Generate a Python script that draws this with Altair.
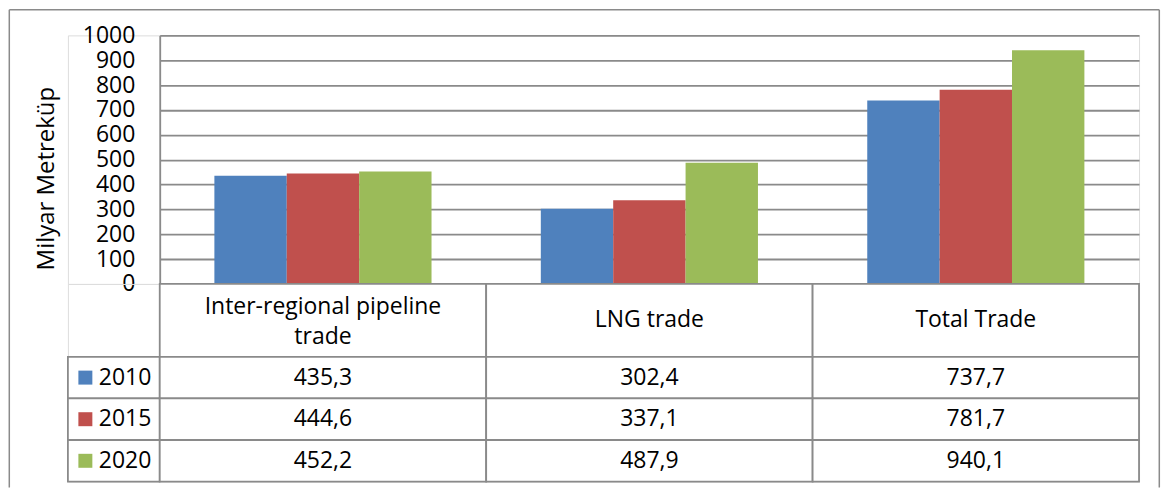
import altair as alt
import pandas as pd

# ---- data -------------------------------------------------------------
categories = ["Inter-regional pipeline trade", "LNG trade", "Total Trade"]
header_labels = ["Inter-regional pipeline\ntrade", "LNG trade", "Total Trade"]
years = ["2010", "2015", "2020"]
values_2010 = [435.3, 302.4, 737.7]
values_2015 = [444.6, 337.1, 781.7]
values_2020 = [452.2, 487.9, 940.1]
colors = ["#4F81BD", "#C0504D", "#9BBB59"]
y_ticks = [0, 100, 200, 300, 400, 500, 600, 700, 800, 900, 1000]
y_title = "Milyar Metreküp"

series = {"2010": values_2010, "2015": values_2015, "2020": values_2020}
rows = []
for yr in years:
    for cat, v in zip(categories, series[yr]):
        rows.append({"category": cat, "year": yr, "value": v,
                     "label": f"{v:.1f}".replace(".", ",")})
df = pd.DataFrame(rows)
hdr_df = pd.DataFrame({"category": categories, "label": header_labels, "row": ["h"] * 3,
                       "multi": ["\n" in s for s in header_labels]})
yr_df = pd.DataFrame({"year": years})
dummy = pd.DataFrame({"a": [0]})

# ---- style ------------------------------------------------------------
FONT = "Open Sans"
FS = 23
GRAY = "#8a8a8a"
LW = 1.8
W1, W2 = 92, 981
H1, H2, H3 = 249, 73, 125

x_cat = alt.X("category:N", sort=categories,
              scale=alt.Scale(domain=categories, paddingInner=0, paddingOuter=0),
              axis=None)
col_scale = alt.Scale(domain=years, range=colors)

# ---- bar chart ----------------------------------------------------------
bars = alt.Chart(df).mark_bar().encode(
    x=x_cat,
    xOffset=alt.XOffset("year:N", sort=years,
                        scale=alt.Scale(domain=years, paddingInner=0, paddingOuter=0.755)),
    y=alt.Y("value:Q",
            scale=alt.Scale(domain=[0, 1000], nice=False),
            axis=alt.Axis(values=y_ticks, format="d", title=y_title, ticks=False, tickSize=0,
                          labelFont=FONT, labelFontSize=FS, labelColor="black",
                          labelPadding=25, domain=True, domainColor=GRAY,
                          domainWidth=LW, grid=True, gridColor=GRAY, gridWidth=LW,
                          titleFont=FONT, titleFontSize=24, titleFontWeight="normal",
                          titleColor="black", titleAngle=270, titleAlign="center",
                          titleBaseline="middle", titleX=-113, titleY=143)),
    color=alt.Color("year:N", scale=col_scale, legend=None),
).properties(width=W2, height=H1)

# ---- frame (decoration) in top-left cell ------------------------------------
FX0, FY0, FX1, FY1 = -58.7, -25.7, 1093.3, 453
fl = alt.Chart(dummy).mark_rule(color=GRAY, strokeWidth=1.5).encode(
    x=alt.value(FX0), y=alt.value(FY0), y2=alt.value(FY1))
ft = alt.Chart(dummy).mark_rule(color=GRAY, strokeWidth=1.5).encode(
    x=alt.value(FX0), x2=alt.value(FX1), y=alt.value(FY0))
fr = alt.Chart(dummy).mark_rule(color=GRAY, strokeWidth=1.5).encode(
    x=alt.value(FX1), y=alt.value(FY0), y2=alt.value(FY1))
frame = alt.layer(fl, ft, fr).properties(width=W1, height=H1)

blank = alt.Chart(dummy).mark_point(opacity=0).encode(
    x=alt.value(0), y=alt.value(0)).properties(width=W1, height=H2)

# ---- header row -----------------------------------------------------------
y_hdr = alt.Y("row:N", axis=None, scale=alt.Scale(paddingInner=0, paddingOuter=0))
hdr_rect = alt.Chart(hdr_df).mark_rect(fill="white", stroke=GRAY, strokeWidth=LW).encode(
    x=x_cat, y=y_hdr)
hdr_text1 = alt.Chart(hdr_df).transform_filter("!datum.multi").mark_text(
    font=FONT, fontSize=FS, color="black", align="center", baseline="middle").encode(
    x=x_cat, y=y_hdr, text="label:N")
hdr_text2 = alt.Chart(hdr_df).transform_filter("datum.multi").mark_text(
    font=FONT, fontSize=FS, color="black", lineBreak="\n", lineHeight=29.5,
    align="center", baseline="middle", dy=-13).encode(
    x=x_cat, y=y_hdr, text="label:N")
header = alt.layer(hdr_rect, hdr_text1, hdr_text2).properties(width=W2, height=H2)

# ---- data rows -------------------------------------------------------------
y_yr = alt.Y("year:N", sort=years, axis=None,
             scale=alt.Scale(domain=years, paddingInner=0, paddingOuter=0))
cell_rect = alt.Chart(df).mark_rect(fill="white", stroke=GRAY, strokeWidth=LW).encode(
    x=x_cat, y=y_yr)
cell_text = alt.Chart(df).mark_text(font=FONT, fontSize=FS, color="black",
                                    align="center", baseline="middle").encode(
    x=x_cat, y=y_yr, text="label:N")
table = alt.layer(cell_rect, cell_text).properties(width=W2, height=H3)

# ---- legend column ---------------------------------------------------------
leg_rect = alt.Chart(yr_df).mark_rect(fill="white", stroke=GRAY, strokeWidth=LW).encode(
    y=y_yr)
leg_sq = alt.Chart(yr_df).mark_square(size=196, opacity=1, filled=True).encode(
    x=alt.value(17.5), y=y_yr,
    color=alt.Color("year:N", scale=col_scale, legend=None))
leg_txt = alt.Chart(yr_df).mark_text(font=FONT, fontSize=FS, color="black",
                                     align="left", baseline="middle").encode(
    x=alt.value(31), y=y_yr, text="year:N")
legend_col = alt.layer(leg_rect, leg_sq, leg_txt).properties(width=W1, height=H3)

chart = alt.concat(frame, bars, blank, header, legend_col, table,
                   columns=2, spacing=0, bounds="flush", align="each").resolve_scale(
    x="independent", y="independent"
).properties(padding=0).configure_view(stroke=None).configure(font=FONT)

chart.save("out.html", embed_options={"renderer": "svg", "actions": False})
